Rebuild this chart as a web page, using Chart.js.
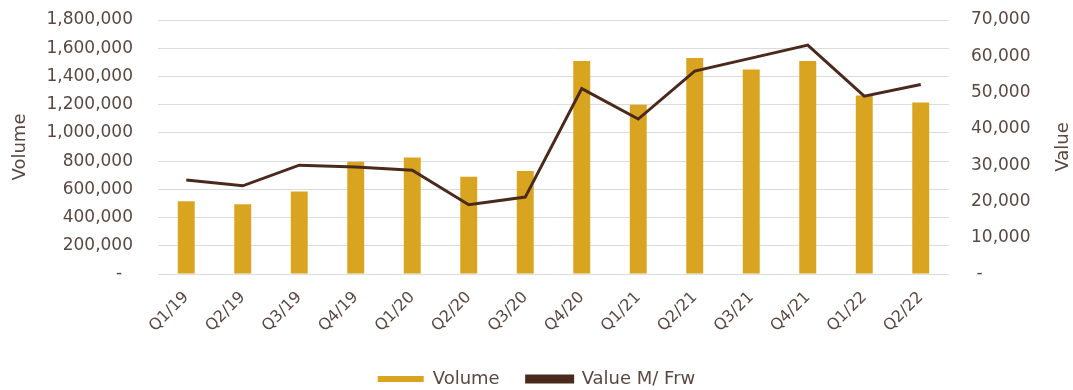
<!DOCTYPE html>
<html>
<head>
<meta charset="utf-8">
<script src="https://cdn.jsdelivr.net/npm/chart.js@4.4.1/dist/chart.umd.min.js"></script>
<style>
  html, body { margin: 0; padding: 0; background: #fff; }
  #wrap { width: 1073px; height: 390px; }
</style>
</head>
<body>
<div id="wrap"><canvas id="chart"></canvas></div>
<script>
// quarters
const quarters = ["Q1/19", "Q2/19", "Q3/19", "Q4/19", "Q1/20", "Q2/20", "Q3/20",
  "Q4/20", "Q1/21", "Q2/21", "Q3/21", "Q4/21", "Q1/22", "Q2/22"];
// transactions volume (left axis)
const volume = [515000, 495000, 585000, 795000, 825000, 690000, 730000,
  1510000, 1200000, 1530000, 1450000, 1510000, 1265000, 1215000];
// value in M Frw (right axis)
const valueMFrw = [25900, 24300, 30000, 29500, 28600, 19100, 21200,
  51100, 42700, 55900, 59500, 63100, 49000, 52200];

const volumeTicks = { min: 0, max: 1800000, step: 200000 };
const valueTicks = { min: 0, max: 70000, step: 10000 };

const gold = "#d9a521";
const brown = "#4b2a1e";
const textCol = "#5a4842";
const FONT = "DejaVu Sans";

function fmt(v, dash) {
  if (v === 0) return dash;
  return v.toLocaleString("en-US");
}

// fixed axis box sizes; drop the tick padding chart.js adds above/below
function fixY(width) {
  return (s) => {
    s.width = width;
    s.paddingTop = 0;
    s.paddingBottom = 0;
  };
}

// right axis title reads bottom-to-top, like the left one
const rightTitle = {
  id: "rightTitle",
  afterDraw(chart) {
    const { ctx, chartArea } = chart;
    ctx.save();
    ctx.translate(1063, (chartArea.top + chartArea.bottom) / 2);
    ctx.rotate(-Math.PI / 2);
    ctx.font = `18px "${FONT}"`;
    ctx.fillStyle = textCol;
    ctx.textAlign = "center";
    ctx.textBaseline = "middle";
    ctx.fillText("Value", 0, 0);
    ctx.restore();
  },
};

new Chart(document.getElementById("chart"), {
  data: {
    labels: quarters,
    datasets: [
      {
        type: "bar",
        label: "Volume",
        data: volume,
        yAxisID: "y",
        backgroundColor: gold,
        borderWidth: 0,
        barPercentage: 0.3,
        categoryPercentage: 1,
        order: 1,
      },
      {
        type: "line",
        label: "Value M/ Frw",
        data: valueMFrw,
        yAxisID: "y1",
        borderColor: brown,
        backgroundColor: brown,
        borderWidth: 3,
        pointRadius: 0,
        tension: 0,
        order: 0,
      },
    ],
  },
  plugins: [rightTitle],
  options: {
    responsive: true,
    maintainAspectRatio: false,
    animation: false,
    layout: { padding: { top: 20, left: 0, right: 0, bottom: 0 } },
    plugins: {
      tooltip: { enabled: false },
      legend: {
        position: "bottom",
        maxHeight: 47,
        labels: {
          boxWidth: 46,
          boxHeight: 6,
          padding: 27,
          color: textCol,
          font: { family: FONT, size: 18 },
          sort: (a, b) => a.datasetIndex - b.datasetIndex,
        },
      },
    },
    scales: {
      x: {
        grid: { display: false, drawTicks: false },
        border: { display: false },
        ticks: {
          color: textCol,
          font: { family: FONT, size: 16 },
          minRotation: 45,
          maxRotation: 45,
          padding: 14,
        },
        afterFit: (s) => { s.height = 69; },
      },
      y: {
        position: "left",
        min: volumeTicks.min,
        max: volumeTicks.max,
        grid: { color: "#dcdcdc", lineWidth: 1, drawTicks: false },
        border: { display: false },
        ticks: {
          stepSize: volumeTicks.step,
          color: textCol,
          font: { family: FONT, size: 17 },
          padding: 25,
          callback: (v) => fmt(v, "-  "),
        },
        title: {
          display: true,
          text: "Volume",
          color: textCol,
          font: { family: FONT, size: 18 },
          padding: { top: 10, bottom: 0 },
        },
        afterFit: fixY(158),
      },
      y1: {
        position: "right",
        min: valueTicks.min,
        max: valueTicks.max,
        grid: { display: false, drawTicks: false },
        border: { display: false },
        ticks: {
          stepSize: valueTicks.step,
          color: textCol,
          font: { family: FONT, size: 17 },
          padding: 22,
          callback: (v) => fmt(v, " -"),
        },
        afterFit: fixY(124),
      },
    },
  },
});
</script>
</body>
</html>
